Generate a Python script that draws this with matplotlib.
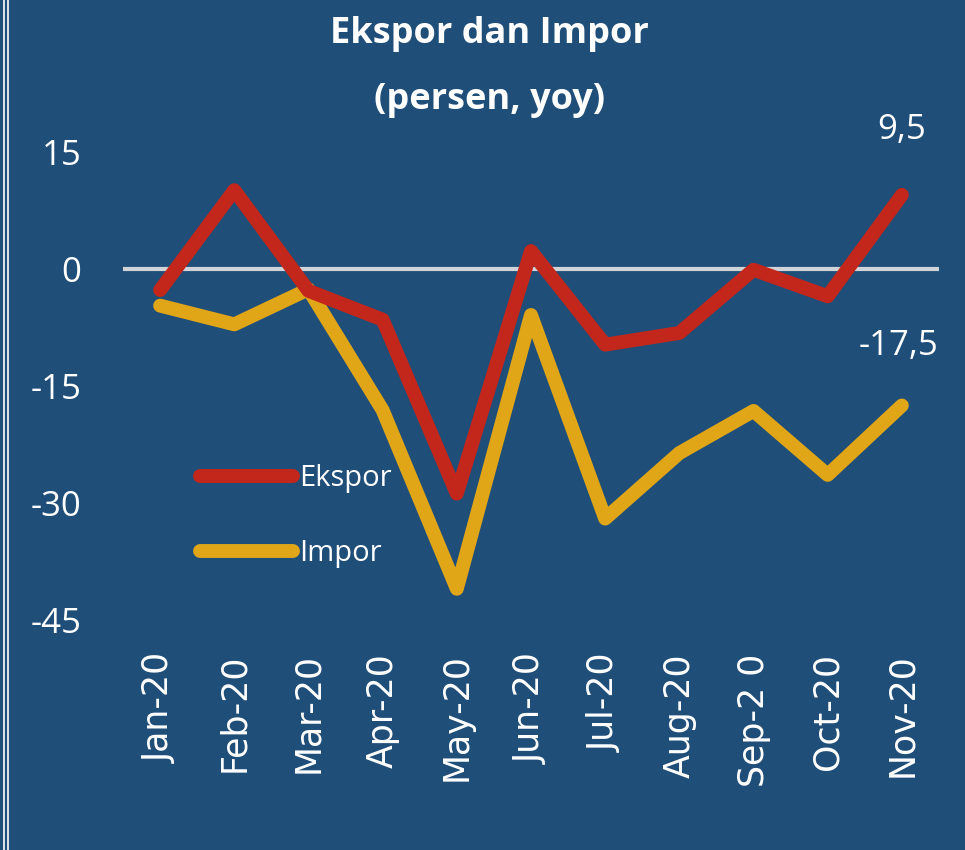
import matplotlib.pyplot as plt
from matplotlib.lines import Line2D
from matplotlib import font_manager

bulan = ["Jan-20", "Feb-20", "Mar-20", "Apr-20", "May-20", "Jun-20",
         "Jul-20", "Aug-20", "Sep-2 0", "Oct-20", "Nov-20"]
ekspor = [-2.7, 10.1, -2.8, -6.5, -28.8, 2.3, -9.7, -8.2, -0.1, -3.5, 9.5]
impor = [-4.7, -7.1, -2.6, -18.1, -41.0, -5.9, -32.0, -23.6, -18.2, -26.4, -17.5]
yticks = [15, 0, -15, -30, -45]

bg = "#1f4e79"
merah = "#c3261a"
kuning = "#e1a617"

installed = {f.name for f in font_manager.fontManager.ttflist}
font = [f for f in ["Liberation Sans Narrow", "DejaVu Sans Condensed", "Open Sans"]
        if f in installed] + ["DejaVu Sans"]

fig = plt.figure(figsize=(9.65, 8.5), dpi=100, facecolor=bg)
ax = fig.add_axes([0.1275, 0.2706, 0.8455, 0.5506])
ax.set_facecolor(bg)

x = range(len(bulan))
ax.axhline(0, color="#d0d3d8", lw=3, zorder=1)
ax.plot(x, ekspor, color=merah, lw=10, solid_capstyle="round",
        solid_joinstyle="round", label="Ekspor", zorder=3)
ax.plot(x, impor, color=kuning, lw=10, solid_capstyle="round",
        solid_joinstyle="round", label="Impor", zorder=2)

ax.set_xlim(-0.5, 10.5)
ax.set_ylim(-45, 15)
ax.set_xticks(list(x))
ax.set_xticklabels(bulan, rotation=90, fontsize=25, color="white",
                   family="DejaVu Sans")
ax.set_yticks(yticks)
ax.set_yticklabels([str(v) for v in yticks], fontsize=25, color="white",
                   family=font)
ax.tick_params(length=0, pad=30, axis="y")
ax.tick_params(length=0, pad=24, axis="x")
for s in ax.spines.values():
    s.set_visible(False)

ax.text(10, ekspor[-1] + 6.2, "9,5", ha="center", va="bottom", fontsize=25,
        color="white", family=font)
ax.text(9.95, impor[-1] + 5.4, "-17,5", ha="center", va="bottom", fontsize=25,
        color="white", family=font)

leg = ax.legend(loc="upper left", bbox_to_anchor=(0.062, 0.39), frameon=False,
                handlelength=3.2, handletextpad=0.2, labelspacing=1.6,
                prop={"family": font, "size": 21})
for t in leg.get_texts():
    t.set_color("white")
for h in leg.get_lines():
    h.set_solid_capstyle("round")

fig.text(0.507, 0.96, "Ekspor dan Impor", ha="center", va="center",
         fontsize=26, fontweight="bold", color="white", family=font)
fig.text(0.507, 0.882, "(persen, yoy)", ha="center", va="center",
         fontsize=26, fontweight="bold", color="white", family=font)

fig.add_artist(Line2D([0.004, 0.004], [0, 1], color="white", lw=1.2,
                      transform=fig.transFigure))
fig.add_artist(Line2D([0.008, 0.008], [0, 1], color="white", lw=1.2,
                      transform=fig.transFigure))

fig.savefig("out.png", dpi=100, facecolor=bg)
